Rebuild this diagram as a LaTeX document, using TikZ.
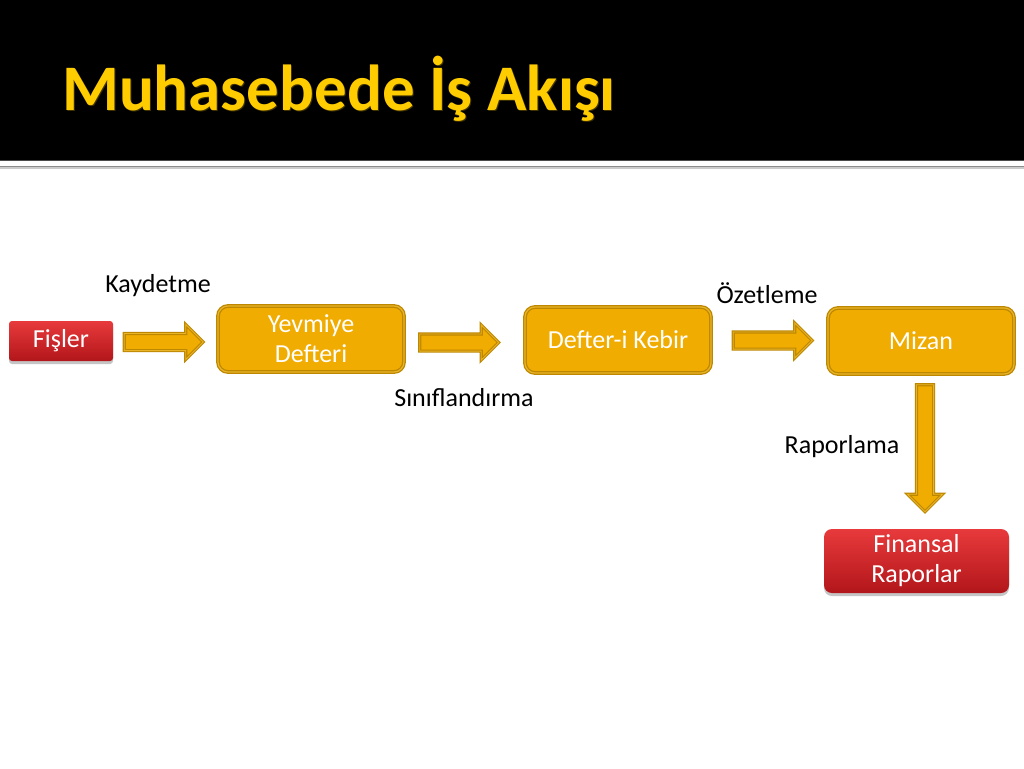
\documentclass[tikz,border=0pt]{standalone}
\usepackage{fontspec}
\setmainfont{Carlito}
\usetikzlibrary{shapes.arrows,shadows}
\definecolor{goldfill}{RGB}{240,172,0}
\definecolor{golddark}{RGB}{190,135,0}
\definecolor{goldlight}{RGB}{232,180,40}
\definecolor{redtop}{RGB}{232,58,60}
\definecolor{redbot}{RGB}{178,22,26}
\definecolor{titley}{RGB}{255,204,0}
\tikzset{
  goldbox/.style={rounded corners=10pt, fill=goldfill, draw=golddark, line width=1.3pt,
    double=goldlight, double distance=1.2pt, minimum width=186pt, minimum height=66pt,
    text=white, font=\fontsize{26}{30}\selectfont, align=center, inner sep=0pt},
  redbox/.style={rounded corners=5pt, top color=redtop, bottom color=redbot, draw=none,
    drop shadow={shadow xshift=0pt, shadow yshift=-3pt, fill=black!45, opacity=0.5},
    text=white, font=\fontsize{26}{30}\selectfont, align=center, inner sep=0pt},
  blockarrow/.style={single arrow, fill=goldfill, draw=golddark, line width=1.1pt,
    double=goldlight, double distance=0.9pt, inner sep=8pt,
    single arrow head extend=9pt, single arrow tip angle=90, minimum height=79pt},
  lbl/.style={font=\fontsize{26}{30}\selectfont, text=black, inner sep=0pt}
}
\begin{document}
\begin{tikzpicture}[x=1pt,y=-1pt]
\useasboundingbox (0,0) rectangle (1024,768);
\fill[white] (0,0) rectangle (1024,768);
% header
\fill[black] (0,0) rectangle (1024,160);
\draw[black!70, line width=1pt] (0,160.5) -- (1024,160.5);
\draw[black!20, line width=3pt] (0,167.5) -- (1024,167.5);
\draw[black!45, line width=1.3pt] (0,166.8) -- (1024,166.8);
\node[anchor=base west, inner sep=0pt, text=black!75!titley, font=\fontsize{65}{65}\selectfont\bfseries] at (63,111) {Muhasebede İş Akışı};
\node[anchor=base west, inner sep=0pt, text=titley, font=\fontsize{65}{65}\selectfont\bfseries] (title) at (62,110) {Muhasebede İş Akışı};
% nodes
\node[redbox, minimum width=104pt, minimum height=40pt, rounded corners=3pt] (fis) at (61,341) {Fişler};
\node[goldbox] (yev) at (311,339) {Yevmiye\\Defteri};
\node[goldbox] (kebir) at (618,340) {Defter-i Kebir};
\node[goldbox] (mizan) at (921,341) {Mizan};
\node[redbox, minimum width=185pt, minimum height=64pt, rounded corners=8pt] (fin) at (916.5,561) {Finansal\\Raporlar};
% block arrows
\node[blockarrow] (a1) at (159.5,342) {};
\node[blockarrow] (a2) at (455,342.5) {};
\node[blockarrow] (a3) at (768.5,340.5) {};
\node[blockarrow, minimum height=127pt, shape border rotate=270] (a4) at (925,444) {};
% labels
\node[lbl] (l1) at (158,286) {Kaydetme};
\node[lbl] (l2) at (767,293) {Özetleme};
\node[lbl] (l3) at (464,398) {Sınıflandırma};
\node[lbl] (l4) at (842,447) {Raporlama};
\end{tikzpicture}
\end{document}
